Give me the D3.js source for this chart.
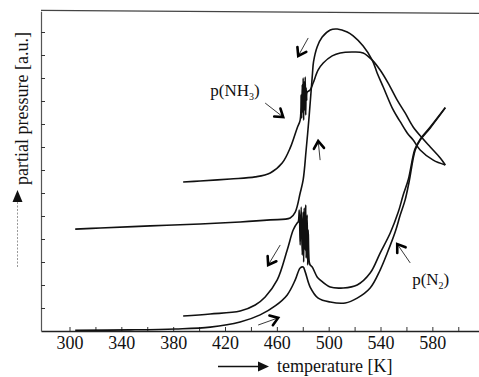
<!DOCTYPE html>
<html>
<head>
<meta charset="utf-8">
<script src="https://cdn.jsdelivr.net/npm/d3@7"></script>
<style>
  body { margin: 0; background: #fff; }
  svg { display: block; }
  text { font-family: "Liberation Serif", "Times New Roman", serif; fill: #111; }
</style>
</head>
<body>
<script>
const w = 479
const h = 377

// temperature [K] , partial pressure [a.u.]
const nh3Heat = [
	[304.4,4.43],[323.7,4.48],[362.3,4.57],[400.8,4.65],[431.7,4.74],[454.9,4.83],[470.3,4.91],
	[474.2,5.17],[478.0,6.0],[480.3,6.57],[482.6,7.87],[485.0,9.39],[486.5,10.48],[487.5,11.2],
	[488.3,11.7],[491.1,12.35],[495.0,12.78],[501.2,13.09],[506.6,13.13],[514.3,13.0],[518.9,12.83],
	[526.6,12.39],[533.6,11.78],[537.4,11.22],[542.1,10.61],[549.8,9.61],[555.2,9.1],[560.6,8.61],
	[565.2,8.30],[570.6,7.87],[580.7,7.43],[590.0,7.22]
]
const nh3Cool = [
	[387.7,6.48],[400.8,6.52],[424.0,6.61],[443.3,6.70],[454.9,6.87],[464.1,7.30],[470.3,7.96],
	[475.7,8.83],[478.0,9.17],[478.8,10.26],[479.2,9.26],[479.6,10.70],[480.0,9.52],[480.3,11.0],
	[480.7,9.17],[481.1,10.83],[481.5,9.61],[481.9,11.04],[482.3,9.39],[482.6,10.57],[483.0,10.04],
	[483.4,10.39],[485.7,10.48],[488.0,10.78],[491.9,11.35],[495.8,11.65],[502.7,11.96],[508.9,12.09],
	[518.9,12.13],[526.6,12.09],[533.6,11.78],[539.7,11.35],[545.9,10.78],[552.9,10.04],[559.0,9.48],
	[565.2,8.87],[572.2,8.39],[578.4,8.0],[586.1,7.52],[590.0,7.22]
]
const n2Heat = [
	[304.4,0.03],[346.8,0.05],[381.6,0.09],[408.6,0.17],[431.7,0.39],[447.1,0.70],[458.7,1.09],
	[468.0,1.57],[474.2,2.22],[478.0,2.74],[480.3,2.78],[481.9,2.57],[485.7,1.91],[491.9,1.43],
	[501.2,1.26],[512.8,1.22],[522.0,1.43],[532.0,1.87],[539.7,2.65],[545.2,3.39],[551.3,4.30],
	[555.2,5.04],[559.0,5.70],[562.1,6.5],[566.8,7.87],[570.6,8.30],[578.4,8.83],[590.0,9.70]
]
const n2Cool = [
	[387.7,0.65],[408.6,0.74],[431.7,0.87],[443.3,1.13],[451.0,1.48],[460.3,2.22],[468.0,3.52],
	[472.6,4.39],[475.7,4.70],[476.5,4.74],[477.3,5.26],[478.0,3.74],[478.8,5.39],[479.6,3.30],
	[480.3,5.17],[480.7,3.0],[481.1,5.35],[481.9,3.52],[482.3,5.48],[482.6,3.17],[483.4,5.04],
	[483.8,2.87],[484.2,4.39],[485.0,3.0],[485.7,2.87],[487.3,2.78],[491.1,2.35],[493.4,2.22],
	[501.2,1.91],[511.2,1.87],[522.0,2.0],[532.0,2.52],[539.7,3.39],[547.5,4.26],[553.7,5.17],
	[557.5,5.91],[561.5,6.6],[566.5,7.9],[570.4,8.32],[578.2,8.86],[590.0,9.72]
]

// small hand-drawn arrows: [tailT, tailV, tipT, tipV]
const arrows = [
	[451.0,9.91,464.9,9.30],
	[484.2,12.74,476.5,11.96],
	[493.4,7.43,491.9,8.26],
	[462.6,3.74,453.3,2.87],
	[445.6,0.26,461.0,0.57],
	[562.9,2.96,552.9,3.78]
]

const xTicks = [300,320,340,360,380,400,420,440,460,480,500,520,540,560,580,600]
const xLabels = [300,340,380,420,460,500,540,580]
const yTicks = [1,2,3,4,5,6,7,8,9,10,11,12,13]

const svg = d3.select("body").append("svg")
	.attr("width", w)
	.attr("height", h)

let x = d3.scaleLinear().domain([278, 616]).range([41, 479])
let y = d3.scaleLinear().domain([0, 13.9]).range([331, 11.3])

// axes with inward ticks
let xAxis = d3.axisBottom(x)
	.tickValues(xTicks)
	.tickSizeInner(-4)
	.tickSizeOuter(0)
	.tickPadding(5)
	.tickFormat(d => xLabels.includes(d) ? d : "")

let gx = svg.append("g")
	.attr("transform", "translate(0," + y(0) + ")")
	.call(xAxis)
gx.select(".domain").attr("stroke", "#222").attr("stroke-width", 1.3)
gx.selectAll(".tick line").attr("stroke", "#333")
gx.selectAll("text")
	.attr("font-size", 18)
	.attr("fill", "#111")
	.style("font-family", "'Liberation Serif', serif")

let yAxis = d3.axisLeft(y)
	.tickValues(yTicks)
	.tickSizeInner(-4)
	.tickSizeOuter(0)
	.tickFormat("")

let gy = svg.append("g")
	.attr("transform", "translate(" + x(278) + ",0)")
	.call(yAxis)
gy.select(".domain").attr("stroke", "#555").attr("stroke-width", 1.2)
gy.selectAll(".tick line").attr("stroke", "#333")

// top frame line
svg.append("line")
	.attr("x1", x(278)).attr("y1", y(13.9) - 1)
	.attr("x2", x(616)).attr("y2", y(13.9) + 2)
	.attr("stroke", "#444")
	.attr("stroke-width", 1.2)

// curves
let line = d3.line()
	.x(d => x(d[0]))
	.y(d => y(d[1]))
	.curve(d3.curveCatmullRom.alpha(0.5))

svg.selectAll("path.curve")
	.data([nh3Heat, nh3Cool, n2Heat, n2Cool])
	.enter()
	.append("path")
	.attr("class", "curve")
	.attr("d", line)
	.attr("fill", "none")
	.attr("stroke", "#111")
	.attr("stroke-width", 1.6)
	.attr("stroke-linejoin", "round")

// arrows
arrows.forEach(a => {
	let x1 = x(a[0]), y1 = y(a[1]), x2 = x(a[2]), y2 = y(a[3])
	let ang = Math.atan2(y2 - y1, x2 - x1)
	let len = 9, spread = 0.6
	svg.append("line")
		.attr("x1", x1).attr("y1", y1)
		.attr("x2", x2).attr("y2", y2)
		.attr("stroke", "#222")
		.attr("stroke-width", 0.9)
	svg.append("path")
		.attr("d", "M" + (x2 - len * Math.cos(ang - spread)) + "," + (y2 - len * Math.sin(ang - spread)) +
			"L" + x2 + "," + y2 +
			"L" + (x2 - len * Math.cos(ang + spread)) + "," + (y2 - len * Math.sin(ang + spread)))
		.attr("fill", "none")
		.attr("stroke", "#000")
		.attr("stroke-width", 2.6)
		.attr("stroke-linecap", "round")
		.attr("stroke-linejoin", "miter")
})

// curve labels
let lab1 = svg.append("text")
	.attr("x", x(408.6))
	.attr("y", y(10.22))
	.attr("font-size", 17)
lab1.append("tspan").text("p(NH")
lab1.append("tspan").attr("font-size", 10).attr("dy", 4).text("3")
lab1.append("tspan").attr("dy", -4).text(")")

let lab2 = svg.append("text")
	.attr("x", x(564.4))
	.attr("y", y(2.0))
	.attr("font-size", 17)
lab2.append("tspan").text("p(N")
lab2.append("tspan").attr("font-size", 10).attr("dy", 4).text("2")
lab2.append("tspan").attr("dy", -4).text(")")

// x axis title with arrow
svg.append("line")
	.attr("x1", 218).attr("y1", 366.5)
	.attr("x2", 260).attr("y2", 366.5)
	.attr("stroke", "#111")
	.attr("stroke-width", 1.3)
svg.append("path")
	.attr("d", "M258,361.5 L269,366.5 L258,371.5 Z")
	.attr("fill", "#111")
svg.append("text")
	.attr("x", 277)
	.attr("y", 372)
	.attr("font-size", 18)
	.text("temperature [K]")

// y axis title with arrow
svg.append("line")
	.attr("x1", 17.5).attr("y1", 267)
	.attr("x2", 17.5).attr("y2", 200)
	.attr("stroke", "#999")
	.attr("stroke-width", 1)
	.attr("stroke-dasharray", "2,1.5")
svg.append("path")
	.attr("d", "M12.5,202 L17.5,190 L22.5,202 Z")
	.attr("fill", "#111")
svg.append("text")
	.attr("transform", "translate(28,185) rotate(-90)")
	.attr("font-size", 18)
	.text("partial pressure [a.u.]")
</script>
</body>
</html>
